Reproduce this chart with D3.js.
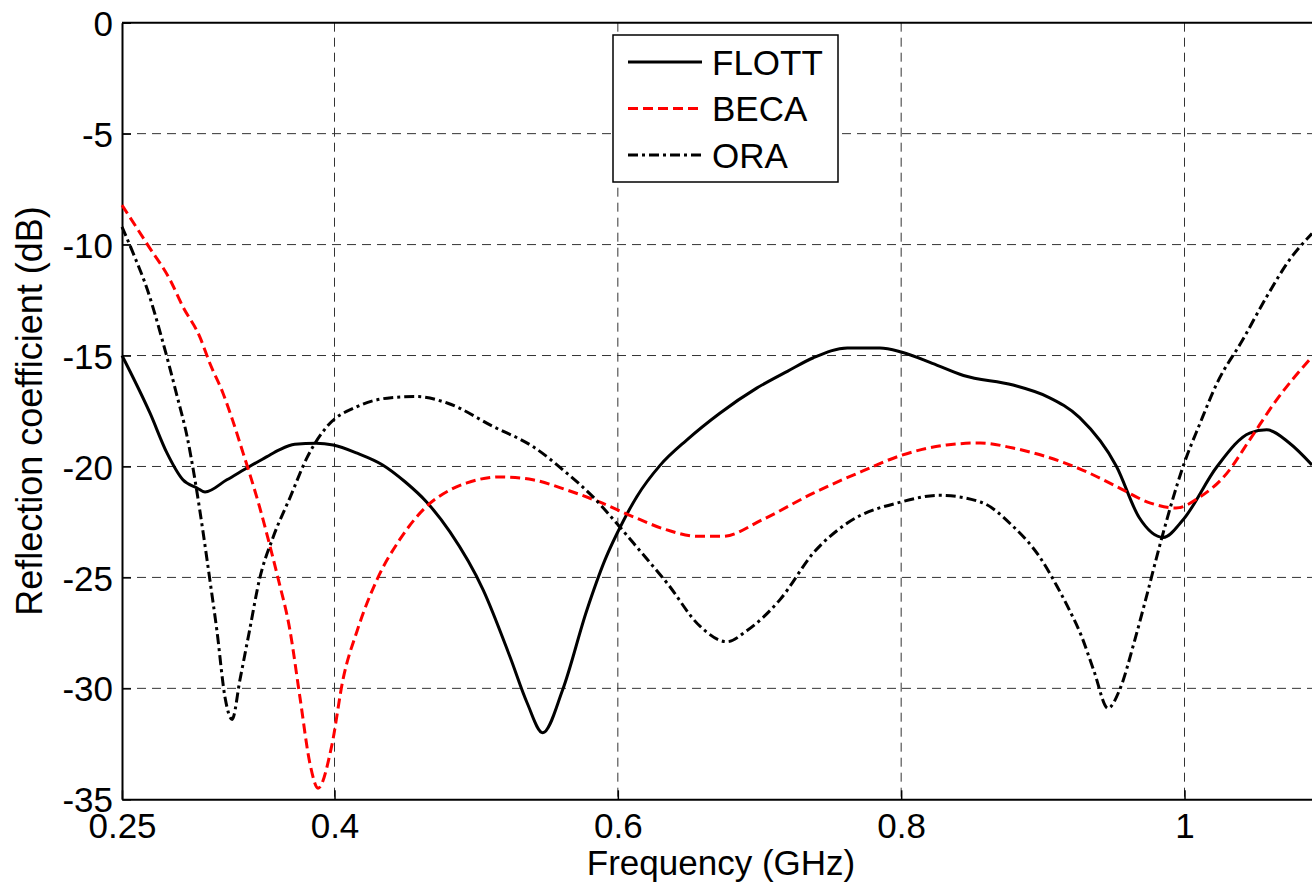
<!DOCTYPE html>
<html>
<head>
<meta charset="utf-8">
<script src="https://cdn.jsdelivr.net/npm/d3@7/dist/d3.min.js"></script>
<style>
  html, body { margin: 0; padding: 0; background: #fff; }
  svg { display: block; font-family: "Liberation Sans", Arial, sans-serif; }
</style>
</head>
<body>
<svg id="chart" width="1312" height="886"></svg>
<script>
// Frequency sweep (GHz) and reflection coefficient (dB) for three antennas
const flottFreq = [0.25, 0.2698, 0.2818, 0.293, 0.303, 0.3086, 0.324, 0.340, 0.352, 0.361, 0.372, 0.387, 0.399, 0.416, 0.434, 0.450, 0.465, 0.4815, 0.505, 0.524, 0.536, 0.547, 0.561, 0.578, 0.591, 0.6035, 0.6135, 0.6298, 0.6488, 0.672, 0.698, 0.720, 0.738, 0.762, 0.785, 0.800, 0.822, 0.844, 0.879, 0.903, 0.926, 0.952, 0.968, 0.985, 0.999, 1.023, 1.046, 1.058, 1.074, 1.09];
const flottDb   = [-15.0, -17.6, -19.4, -20.6, -20.97, -21.15, -20.6, -20.0, -19.57, -19.25, -19.0, -18.95, -19.03, -19.4, -19.93, -20.7, -21.6, -22.95, -25.57, -28.6, -30.66, -32.0, -30.07, -26.5, -24.2, -22.5, -21.35, -19.95, -18.8, -17.6, -16.47, -15.7, -15.1, -14.66, -14.66, -14.84, -15.35, -15.9, -16.33, -16.85, -17.8, -20.0, -22.3, -23.2, -22.4, -20.0, -18.5, -18.35, -18.94, -19.93];

const becaFreq = [0.25, 0.268, 0.284, 0.293, 0.305, 0.312, 0.3213, 0.328, 0.3355, 0.340, 0.347, 0.3545, 0.360, 0.3686, 0.3756, 0.3827, 0.3884, 0.398, 0.406, 0.416, 0.430, 0.446, 0.465, 0.4815, 0.4935, 0.5168, 0.540, 0.564, 0.587, 0.611, 0.6347, 0.656, 0.674, 0.702, 0.738, 0.773, 0.800, 0.832, 0.856, 0.879, 0.903, 0.928, 0.952, 0.976, 0.994, 1.011, 1.030, 1.046, 1.065, 1.09];
const becaDb   = [-8.22, -10.0, -11.6, -12.8, -14.17, -15.35, -16.7, -17.9, -19.4, -20.3, -21.8, -23.6, -25.0, -27.4, -30.4, -33.4, -34.5, -32.6, -29.6, -27.4, -25.1, -23.3, -21.8, -21.06, -20.74, -20.47, -20.6, -21.06, -21.6, -22.27, -22.86, -23.15, -23.15, -22.4, -21.2, -20.2, -19.5, -19.03, -18.94, -19.17, -19.57, -20.16, -20.9, -21.65, -21.87, -21.37, -20.3, -18.8, -17.0, -15.06];

const oraFreq = [0.25, 0.259, 0.268, 0.278, 0.289, 0.296, 0.3015, 0.307, 0.312, 0.317, 0.3227, 0.3277, 0.3333, 0.340, 0.347, 0.3566, 0.3686, 0.3806, 0.3947, 0.416, 0.440, 0.458, 0.480, 0.512, 0.540, 0.564, 0.5825, 0.599, 0.6156, 0.6347, 0.658, 0.677, 0.691, 0.7145, 0.738, 0.762, 0.800, 0.827, 0.856, 0.879, 0.898, 0.910, 0.919, 0.927, 0.936, 0.946, 0.954, 0.965, 0.973, 0.983, 0.999, 1.011, 1.023, 1.041, 1.058, 1.074, 1.09];
const oraDb   = [-9.2, -10.56, -12.05, -14.2, -16.86, -18.67, -20.6, -22.86, -25.1, -27.4, -30.4, -31.4, -29.6, -27.4, -25.1, -23.2, -21.4, -19.6, -18.2, -17.3, -16.9, -16.85, -17.15, -18.2, -19.1, -20.3, -21.37, -22.55, -23.8, -25.25, -27.2, -27.9, -27.4, -26.0, -23.9, -22.55, -21.6, -21.3, -21.6, -22.7, -24.1, -25.4, -26.5, -27.6, -29.2, -30.9, -30.1, -27.8, -25.9, -23.45, -20.0, -18.05, -16.24, -14.3, -12.35, -10.7, -9.5];

const seriesNames = ["FLOTT", "BECA", "ORA"];
const xTicks = [0.25, 0.4, 0.6, 0.8, 1];
const yTicks = [0, -5, -10, -15, -20, -25, -30, -35];
const xLabel = "Frequency (GHz)";
const yLabel = "Reflection coefficient (dB)";

const series = [
  { name: seriesNames[0], freq: flottFreq, db: flottDb, color: "#000", dash: null },
  { name: seriesNames[1], freq: becaFreq,  db: becaDb,  color: "#ff0000", dash: "10,5" },
  { name: seriesNames[2], freq: oraFreq,   db: oraDb,   color: "#000", dash: "10,4,3,4" }
];

const svg = d3.select("#chart");
const plot = { left: 122, right: 1312, top: 22.7, bottom: 799.3 };

const x = d3.scaleLinear().domain([0.25, 1.09]).range([plot.left, plot.right]);
const y = d3.scaleLinear().domain([-35, 0]).range([plot.bottom, plot.top]);

// dashed grid
const grid = svg.append("g");
grid.selectAll("line.gx")
  .data(xTicks.filter(t => t > 0.25))
  .join("line")
  .attr("x1", d => x(d)).attr("x2", d => x(d))
  .attr("y1", plot.top).attr("y2", plot.bottom)
  .attr("stroke", "#333").attr("stroke-width", 1).attr("stroke-dasharray", "9,6");
grid.selectAll("line.gy")
  .data(yTicks.filter(t => t > -35 && t < 0))
  .join("line")
  .attr("x1", plot.left).attr("x2", plot.right)
  .attr("y1", d => y(d)).attr("y2", d => y(d))
  .attr("stroke", "#333").attr("stroke-width", 1).attr("stroke-dasharray", "9,6");

// axes
const xAxis = d3.axisBottom(x).tickValues(xTicks).tickFormat(d => d === 0.25 ? "0.25" : d3.format("~g")(d))
  .tickSizeInner(-9).tickSizeOuter(0).tickPadding(14);
const yAxis = d3.axisLeft(y).tickValues(yTicks).tickFormat(d => d3.format("~g")(d).replace("−", "-"))
  .tickSizeInner(-9).tickSizeOuter(0).tickPadding(9);

const gx = svg.append("g").attr("transform", `translate(0,${plot.bottom})`).call(xAxis);
const gy = svg.append("g").attr("transform", `translate(${plot.left},0)`).call(yAxis);
[gx, gy].forEach(g => {
  g.select(".domain").attr("stroke", "#000").attr("stroke-width", 2);
  g.selectAll(".tick line").attr("stroke", "#000").attr("stroke-width", 1.5);
  g.selectAll(".tick text").attr("fill", "#000").attr("font-size", 35)
    .attr("font-family", "'Liberation Sans', Arial, sans-serif");
});
gy.selectAll(".tick text").attr("dy", "0.36em");

// top border
svg.append("line")
  .attr("x1", plot.left).attr("x2", plot.right)
  .attr("y1", plot.top).attr("y2", plot.top)
  .attr("stroke", "#000").attr("stroke-width", 2);

// curves
const line = d3.line().curve(d3.curveMonotoneX);
svg.append("g").selectAll("path")
  .data(series)
  .join("path")
  .attr("d", s => line(s.freq.map((f, i) => [x(f), y(s.db[i])])))
  .attr("fill", "none")
  .attr("stroke", s => s.color)
  .attr("stroke-width", 3)
  .attr("stroke-dasharray", s => s.dash);

// axis titles
svg.append("text")
  .attr("x", 721).attr("y", 875)
  .attr("text-anchor", "middle").attr("font-size", 35).text(xLabel);
svg.append("text")
  .attr("transform", `translate(42,${(plot.top + plot.bottom) / 2}) rotate(-90)`)
  .attr("text-anchor", "middle").attr("font-size", 36).text(yLabel);

// legend
const legend = svg.append("g").attr("transform", "translate(613,35)");
legend.append("rect").attr("width", 225).attr("height", 147)
  .attr("fill", "#fff").attr("stroke", "#000").attr("stroke-width", 1.5);
const rows = legend.selectAll("g.row").data(series).join("g")
  .attr("transform", (d, i) => `translate(0,${27 + i * 46.5})`);
rows.append("line").attr("x1", 15).attr("x2", 89).attr("y1", 0).attr("y2", 0)
  .attr("stroke", d => d.color).attr("stroke-width", 3).attr("stroke-dasharray", d => d.dash);
rows.append("text").attr("x", 99).attr("y", 0).attr("dy", "0.36em")
  .attr("font-size", 35).text(d => d.name);
</script>
</body>
</html>
